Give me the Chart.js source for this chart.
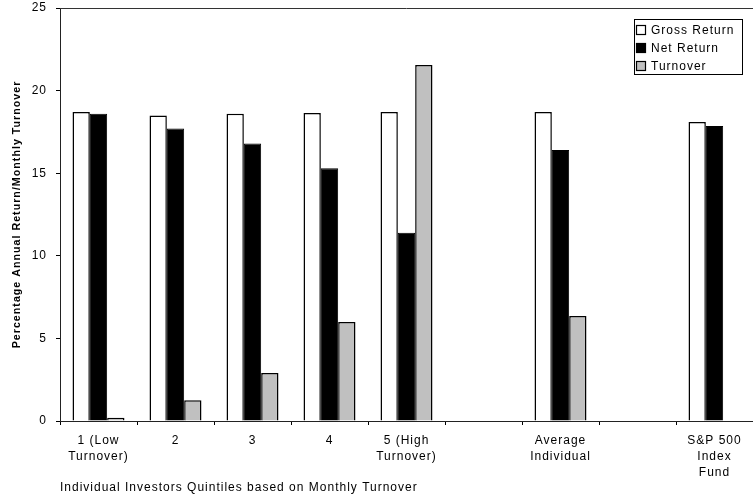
<!DOCTYPE html>
<html>
<head>
<meta charset="utf-8">
<script src="https://cdn.jsdelivr.net/npm/chart.js@4.4.1/dist/chart.umd.min.js"></script>
<style>
    html, body { margin: 0; padding: 0; background: #fff; }
    #wrap { width: 753px; height: 501px; position: relative; }
</style>
</head>
<body>
<div id="wrap"><canvas id="returns-chart"></canvas></div>
<script>
// Categories (empty slots keep the gaps between groups)
const categories = [
    ['1 (Low', 'Turnover)'], '2', '3', '4', ['5 (High', 'Turnover)'],
    '', ['Average', 'Individual'], '', ['S&P 500', 'Index', 'Fund']
];

// Series values
const grossReturn = [18.7, 18.5, 18.6, 18.65, 18.7, null, 18.7, null, 18.1];
const netReturn   = [18.6, 17.7, 16.8, 15.3, 11.4, null, 16.4, null, 17.85];
const turnover    = [0.2, 1.25, 2.9, 6.0, 21.55, null, 6.35, null, null];

const yTicks = [0, 5, 10, 15, 20, 25];

Chart.defaults.font.family = '"Liberation Sans", Arial, sans-serif';
Chart.defaults.color = '#000';

// Wider tracking like the scanned original
const spacing = {
    id: 'spacing',
    beforeInit(chart) { chart.ctx.letterSpacing = '1px'; },
    beforeDraw(chart) { chart.ctx.letterSpacing = '1px'; }
};

// Top frame line of the plot
const topFrame = {
    id: 'topFrame',
    afterDraw(chart) {
        const a = chart.chartArea;
        const ctx = chart.ctx;
        ctx.save();
        ctx.strokeStyle = '#333';
        ctx.lineWidth = 1;
        ctx.beginPath();
        ctx.moveTo(a.left, a.top + 0.5);
        ctx.lineTo(a.right, a.top + 0.5);
        ctx.stroke();
        ctx.restore();
    }
};

// Boxed legend in the upper right corner of the plot
const boxLegend = {
    id: 'boxLegend',
    afterDraw(chart) {
        const ctx = chart.ctx;
        const x = 634, y = 19, w = 108, h = 55;
        ctx.save();
        ctx.fillStyle = '#fff';
        ctx.fillRect(x, y, w, h);
        ctx.strokeStyle = '#000';
        ctx.lineWidth = 1;
        ctx.strokeRect(x + 0.5, y + 0.5, w, h);
        ctx.font = '12px "Liberation Sans", Arial, sans-serif';
        ctx.textBaseline = 'middle';
        chart.data.datasets.forEach((ds, i) => {
            const cy = y + 11 + i * 18;
            ctx.fillStyle = ds.backgroundColor;
            ctx.fillRect(x + 2, cy - 5, 10, 10);
            ctx.strokeStyle = '#000';
            ctx.lineWidth = 1.2;
            ctx.strokeRect(x + 2.5, cy - 4.5, 9, 9);
            ctx.fillStyle = '#000';
            ctx.fillText(ds.label, x + 17, cy + 1);
        });
        ctx.restore();
    }
};

const ctx = document.getElementById('returns-chart');
new Chart(ctx, {
    type: 'bar',
    data: {
        labels: categories,
        datasets: [
            { label: 'Gross Return', data: grossReturn, backgroundColor: '#ffffff', borderColor: '#000', borderWidth: 1.5 },
            { label: 'Net Return', data: netReturn, backgroundColor: '#000000', borderColor: '#000', borderWidth: 1 },
            { label: 'Turnover', data: turnover, backgroundColor: '#c0c0c0', borderColor: '#000', borderWidth: 1.5 }
        ]
    },
    options: {
        responsive: true,
        maintainAspectRatio: false,
        animation: false,
        layout: { padding: { top: 8, right: 0, bottom: 0, left: 0 } },
        datasets: {
            bar: { categoryPercentage: 0.675, barPercentage: 1.0 }
        },
        plugins: {
            legend: { display: false },
            tooltip: { enabled: false }
        },
        scales: {
            x: {
                grid: { display: true, drawOnChartArea: false, drawTicks: true, tickLength: 4, color: '#000', offset: true },
                border: { display: true, color: '#222', width: 1 },
                ticks: {
                    font: { size: 12, lineHeight: 1.33 },
                    padding: 8,
                    maxRotation: 0,
                    autoSkip: false
                },
                title: {
                    display: true,
                    text: 'Individual Investors Quintiles based on Monthly Turnover',
                    align: 'start',
                    font: { size: 12 },
                    padding: { top: 0, bottom: 6 }
                },
                afterFit(scale) {
                    scale.height = 80;
                    scale.paddingLeft = 0;
                    scale.paddingRight = 0;
                }
            },
            y: {
                min: 0,
                max: 25,
                afterBuildTicks(scale) { scale.ticks = yTicks.map(v => ({ value: v })); },
                grid: { display: true, drawOnChartArea: false, drawTicks: true, tickLength: 4, color: '#000' },
                border: { display: true, color: '#222', width: 1 },
                ticks: { font: { size: 12 }, padding: 9 },
                title: {
                    display: true,
                    text: 'Percentage Annual Return/Monthly Turnover',
                    font: { size: 10.7, weight: 'bold' },
                    padding: { top: 11, bottom: 0 }
                },
                afterFit(scale) {
                    scale.width = 60;
                    scale.paddingTop = 0;
                    scale.paddingBottom = 0;
                }
            }
        }
    },
    plugins: [spacing, topFrame, boxLegend]
});
</script>
</body>
</html>
